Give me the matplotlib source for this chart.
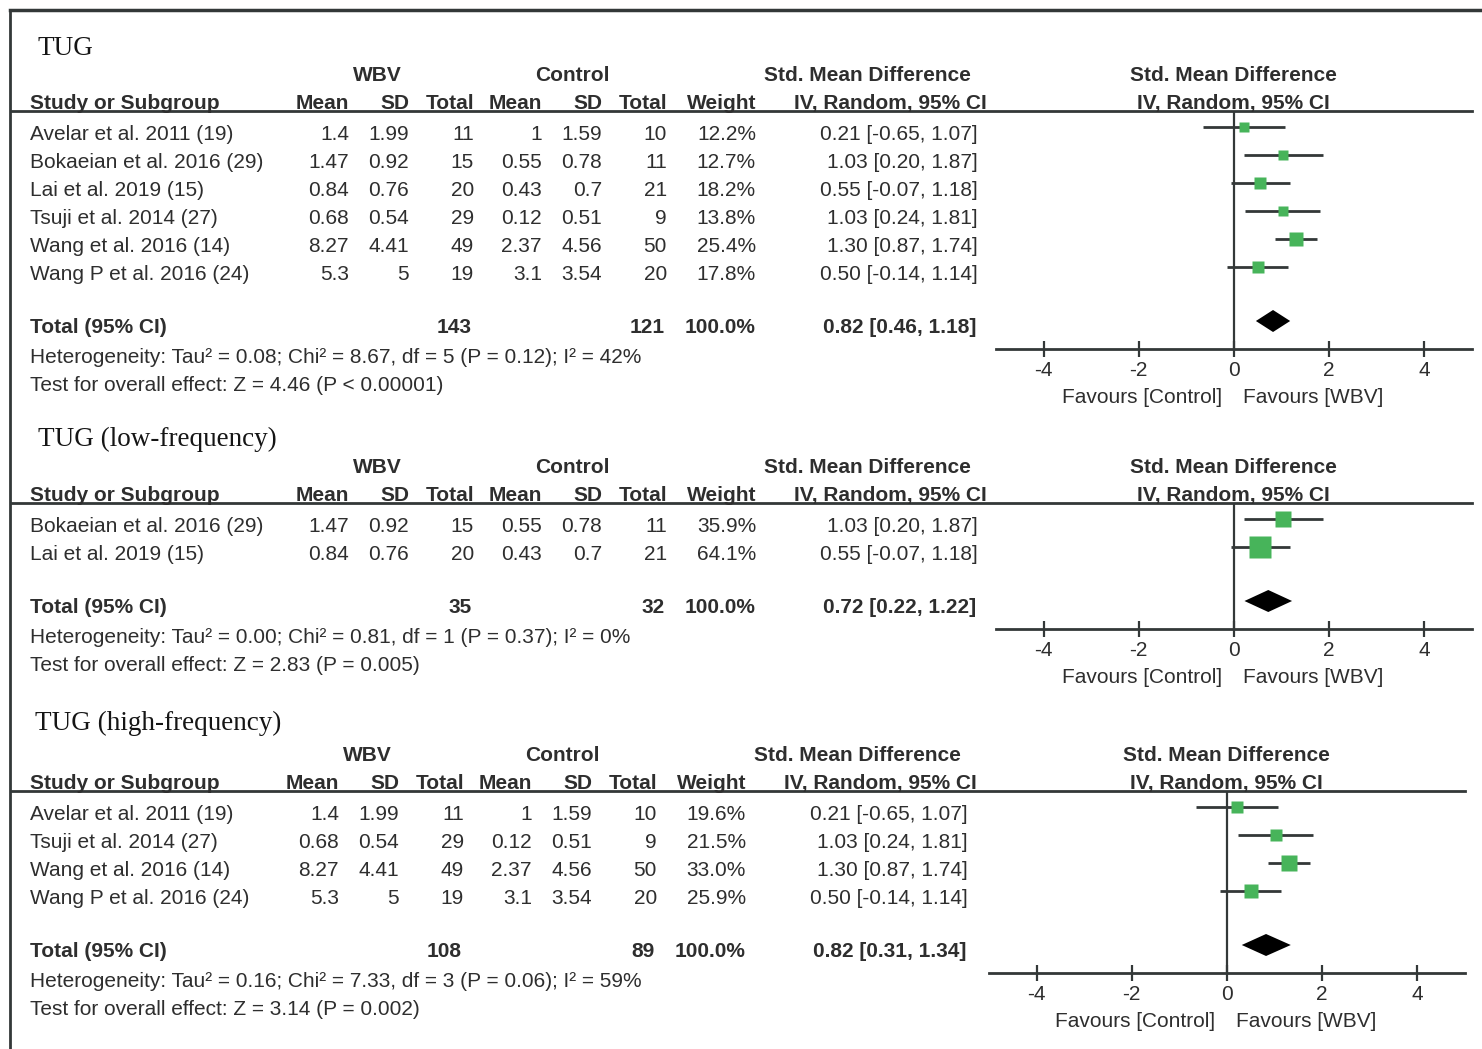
import matplotlib
matplotlib.use('Agg')
import matplotlib.pyplot as plt

plt.rcParams['font.family'] = ['Liberation Sans', 'DejaVu Sans']
plt.rcParams['axes.unicode_minus'] = False

# ---- data: the six trials ----
studies = ['Avelar et al. 2011 (19)', 'Bokaeian et al. 2016 (29)', 'Lai et al. 2019 (15)',
           'Tsuji et al. 2014 (27)', 'Wang et al. 2016 (14)', 'Wang P et al. 2016 (24)']
wbv_mean = [1.4, 1.47, 0.84, 0.68, 8.27, 5.3]
wbv_sd = [1.99, 0.92, 0.76, 0.54, 4.41, 5]
wbv_n = [11, 15, 20, 29, 49, 19]
ctl_mean = [1, 0.55, 0.43, 0.12, 2.37, 3.1]
ctl_sd = [1.59, 0.78, 0.7, 0.51, 4.56, 3.54]
ctl_n = [10, 11, 21, 9, 50, 20]
smd = [0.21, 1.03, 0.55, 1.03, 1.30, 0.50]
ci_lo = [-0.65, 0.20, -0.07, 0.24, 0.87, -0.14]
ci_hi = [1.07, 1.87, 1.18, 1.81, 1.74, 1.14]

# ---- subgroups ----
titles = ['TUG', 'TUG (low-frequency)', 'TUG (high-frequency)']
members = [[0, 1, 2, 3, 4, 5], [1, 2], [0, 3, 4, 5]]
weights = [[12.2, 12.7, 18.2, 13.8, 25.4, 17.8], [35.9, 64.1], [19.6, 21.5, 33.0, 25.9]]
tot_wbv = [143, 35, 108]
tot_ctl = [121, 32, 89]
tot_smd = [0.82, 0.72, 0.82]
tot_lo = [0.46, 0.22, 0.31]
tot_hi = [1.18, 1.22, 1.34]
hetero = ['Heterogeneity: Tau² = 0.08; Chi² = 8.67, df = 5 (P = 0.12); I² = 42%',
          'Heterogeneity: Tau² = 0.00; Chi² = 0.81, df = 1 (P = 0.37); I² = 0%',
          'Heterogeneity: Tau² = 0.16; Chi² = 7.33, df = 3 (P = 0.06); I² = 59%']
overall = ['Test for overall effect: Z = 4.46 (P < 0.00001)',
           'Test for overall effect: Z = 2.83 (P = 0.005)',
           'Test for overall effect: Z = 3.14 (P = 0.002)']
ticks = [-4, -2, 0, 2, 4]

# ---- layout (pixels) ----
W, H = 1482, 1049
title_c = [47, 438, 722]
group_c = [74, 466, 754]
dx = [0, 0, -10]      # table shift
fx = [0, 0, -7]       # forest shift
col_r = [349, 409, 474, 542, 602, 667, 756]   # right edges of numeric columns
TXT = '#2e2e2e'
LN = '#333838'
GREEN = '#47b45a'
FS = 15

fig = plt.figure(figsize=(W / 100, H / 100), dpi=100)
bg = fig.add_axes([0, 0, 1, 1])
bg.set_xlim(0, W)
bg.set_ylim(H, 0)
bg.axis('off')

# frame
bg.plot([10, W], [10, 10], color=LN, lw=2.5)
bg.plot([10, 10], [10, H], color=LN, lw=2.0)


def put(x, yc, s, ha='left', bold=False):
    bg.text(x, yc + 7, s, ha=ha, va='baseline', fontsize=FS, color=TXT,
            fontweight='bold' if bold else 'normal')


for p in range(3):
    d = dx[p]
    f = fx[p]
    gc = group_c[p]
    hc = gc + 28
    line_y = hc + 9
    rows = [hc + 31 + 28 * i for i in range(len(members[p]))]
    tc = rows[-1] + 53
    axis_y = tc + 23
    zero_x = 1233 + f

    bg.text(38 - (3 if p == 2 else 0), title_c[p] + 8, titles[p], ha='left', va='baseline',
            fontsize=19.5, color='#151515', family=['Liberation Serif', 'DejaVu Serif'])

    # column group headers
    put(377 + d, gc, 'WBV', ha='center', bold=True)
    put(572 + d, gc, 'Control', ha='center', bold=True)
    put(867 + d, gc, 'Std. Mean Difference', ha='center', bold=True)
    put(zero_x, gc, 'Std. Mean Difference', ha='center', bold=True)

    put(30, hc, 'Study or Subgroup', bold=True)
    for xr, lab in zip(col_r, ['Mean', 'SD', 'Total', 'Mean', 'SD', 'Total', 'Weight']):
        put(xr + d, hc, lab, ha='right', bold=True)
    put(890 + d, hc, 'IV, Random, 95% CI', ha='center', bold=True)
    put(zero_x, hc, 'IV, Random, 95% CI', ha='center', bold=True)
    bg.plot([12, 1472 + f], [line_y, line_y], color=LN, lw=2.0)

    # study rows
    for i, k in enumerate(members[p]):
        y = rows[i]
        put(30, y, studies[k])
        cells = [f'{wbv_mean[k]:g}', f'{wbv_sd[k]:g}', f'{wbv_n[k]}',
                 f'{ctl_mean[k]:g}', f'{ctl_sd[k]:g}', f'{ctl_n[k]}',
                 f'{weights[p][i]:.1f}%']
        for xr, s in zip(col_r, cells):
            put(xr + d, y, s, ha='right')
        put(978 + d, y, f'{smd[k]:.2f} [{ci_lo[k]:.2f}, {ci_hi[k]:.2f}]', ha='right')

    put(30, tc, 'Total (95% CI)', bold=True)
    put(472 + d, tc, f'{tot_wbv[p]}', ha='right', bold=True)
    put(665 + d, tc, f'{tot_ctl[p]}', ha='right', bold=True)
    put(756 + d, tc, '100.0%', ha='right', bold=True)
    put(976 + d, tc, f'{tot_smd[p]:.2f} [{tot_lo[p]:.2f}, {tot_hi[p]:.2f}]', ha='right', bold=True)
    put(30, tc + 30, hetero[p])
    put(30, tc + 58, overall[p])

    # forest panel: x in SMD units, y in pixel rows
    x0, x1 = 996 + f, 1472 + f
    ax = fig.add_axes([x0 / W, 1 - axis_y / H, (x1 - x0) / W, (axis_y - line_y) / H])
    ax.patch.set_alpha(0)
    ax.set_xlim(-5, 5)
    ax.set_ylim(axis_y, line_y)
    for s in ['top', 'left', 'right']:
        ax.spines[s].set_visible(False)
    ax.spines['bottom'].set_color(LN)
    ax.spines['bottom'].set_linewidth(2.0)
    ax.set_yticks([])
    ax.set_xticks(ticks)
    ax.set_xticklabels([str(t) for t in ticks])
    ax.tick_params(axis='x', direction='inout', length=11, width=1.6, color=LN,
                   labelsize=FS, labelcolor=TXT, pad=3)
    ax.axvline(0, color=LN, lw=1.6)

    for i, k in enumerate(members[p]):
        y = rows[i] - 6
        ax.plot([ci_lo[k], ci_hi[k]], [y, y], color=LN, lw=2.0, solid_capstyle='butt')
        ax.plot(smd[k], y, marker='s', ms=2.0 * weights[p][i] ** 0.5, color=GREEN, mec='none')

    yd = tc - 5
    ax.fill([tot_lo[p], tot_smd[p], tot_hi[p], tot_smd[p]], [yd, yd - 11, yd, yd + 11],
            color='black', lw=0)

    put(zero_x - 11, axis_y + 47, 'Favours [Control]', ha='right')
    put(zero_x + 10, axis_y + 47, 'Favours [WBV]')

fig.savefig('out.png', dpi=100, facecolor='white')
